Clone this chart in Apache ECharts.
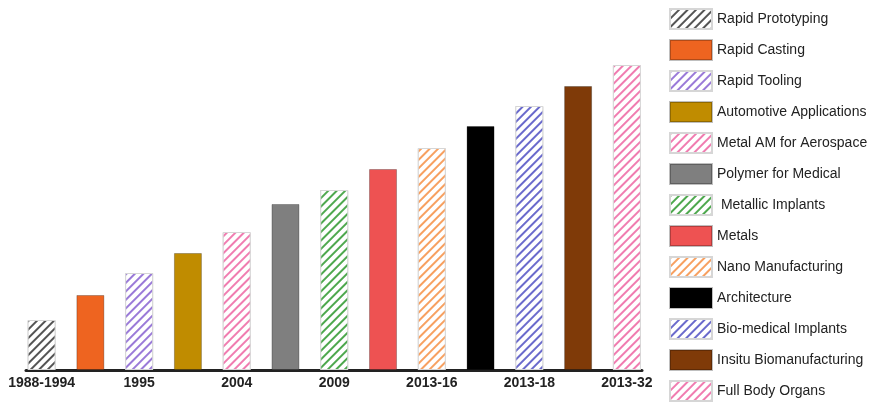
<!DOCTYPE html>
<html>
<head>
<meta charset="utf-8">
<script src="https://cdn.jsdelivr.net/npm/echarts@6/dist/echarts.min.js"></script>
<style>
  html, body { margin: 0; padding: 0; background: #fff; }
  #chart { width: 880px; height: 404px; }
</style>
</head>
<body>
<div id="chart"></div>
<script>
// Stages of additive manufacturing, in order along the timeline
const stages = [
  'Rapid Prototyping', 'Rapid Casting', 'Rapid Tooling', 'Automotive Applications',
  'Metal AM for Aerospace', 'Polymer for Medical', ' Metallic Implants', 'Metals',
  'Nano Manufacturing', 'Architecture', 'Bio-medical Implants',
  'Insitu Biomanufacturing', 'Full Body Organs'
];
// Relative maturity / bar height of each stage
const levels = [50, 75, 97, 117, 138, 166, 180, 201, 222, 244, 264, 284, 305];
// Timeline labels and the bar position (1-based) they sit under
const yearLabels = ['1988-1994', '1995', '2004', '2009', '2013-16', '2013-18', '2013-32'];
const yearPositions = [1, 3, 5, 7, 9, 11, 13];
// Fill colour per stage, and whether it is drawn hatched
const fills = ['#555555', '#EE6420', '#9A7AD8', '#C08C00', '#F07CB0', '#7F7F7F', '#4EA84E',
               '#EE5252', '#F7A060', '#000000', '#6A6ACC', '#7F3A08', '#F07CB0'];
const hatched = [true, false, true, false, true, false, true, false, true, false, true, false, true];

const chart = echarts.init(document.getElementById('chart'), null, { renderer: 'canvas' });

const series = stages.map((name, i) => {
  const style = hatched[i]
    ? {
        color: '#ffffff',
        borderColor: '#d6d6d6',
        borderWidth: 1,
        decal: {
          symbol: 'rect',
          color: fills[i],
          backgroundColor: '#ffffff',
          dashArrayX: [1, 0],
          dashArrayY: [1.4, 3.4],
          rotation: -Math.PI / 4,
          symbolSize: 1
        }
      }
    : { color: fills[i], borderColor: 'rgba(0,0,0,0.25)', borderWidth: 1 };
  return {
    name: name,
    type: 'bar',
    barWidth: 28,
    barGap: '-100%',
    data: [[i + 1, levels[i]]],
    itemStyle: style,
    emphasis: { disabled: true },
    animation: false
  };
});

chart.setOption({
  backgroundColor: '#ffffff',
  animation: false,
  grid: { left: 26, right: 238, top: 50, bottom: 34 },
  legend: {
    orient: 'vertical',
    left: 669,
    top: 8,
    padding: 0,
    itemWidth: 42,
    itemHeight: 20,
    itemGap: 9,
    icon: 'rect',
    selectedMode: false,
    textStyle: {
      fontFamily: 'Liberation Sans, Arial, sans-serif',
      fontSize: 14,
      color: '#222'
    },
    data: stages
  },
  xAxis: {
    type: 'value',
    min: 0.68,
    max: 13.31,
    splitLine: { show: false },
    axisTick: { show: false },
    axisLine: { show: true, onZero: false, lineStyle: { color: '#222', width: 3 } },
    axisLabel: {
      customValues: yearPositions,
      margin: 6,
      fontFamily: 'Liberation Sans, Arial, sans-serif',
      fontWeight: 'bold',
      fontSize: 14,
      color: '#222',
      formatter: v => yearLabels[yearPositions.indexOf(Math.round(v))] || ''
    }
  },
  yAxis: {
    type: 'value',
    min: 0,
    max: 320,
    show: false
  },
  series: series
});
</script>
</body>
</html>
